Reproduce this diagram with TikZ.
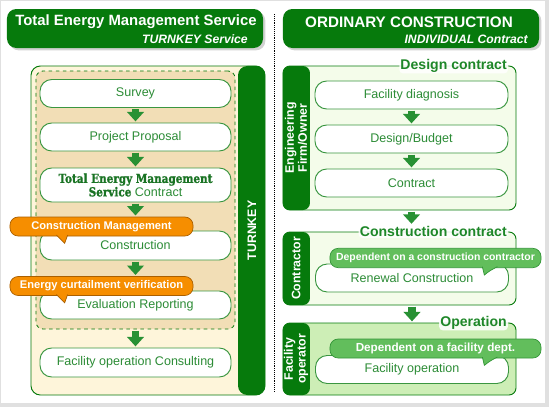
\documentclass[tikz,border=0pt]{standalone}
\usepackage{fontspec}
\setmainfont{Liberation Sans}
\newfontfamily\slabfont[FakeStretch=0.84,FakeBold=1.2]{DejaVu Serif}
\usetikzlibrary{arrows.meta,shadows}

\definecolor{hdgreen}{RGB}{6,122,12}
\definecolor{pillline}{RGB}{58,150,64}
\definecolor{pilltext}{RGB}{44,140,54}
\definecolor{arrowgreen}{RGB}{40,145,52}
\definecolor{creamfill}{RGB}{254,245,218}
\definecolor{tanfill}{RGB}{242,222,182}
\definecolor{palegreen}{RGB}{244,252,234}
\definecolor{opgreen}{RGB}{205,238,182}
\definecolor{calloutgreen}{RGB}{98,190,92}
\definecolor{calloutline}{RGB}{52,150,56}
\definecolor{calloutorange}{RGB}{246,142,0}
\definecolor{orangeline}{RGB}{170,95,0}
\definecolor{taggreen}{RGB}{30,135,40}
\definecolor{slabgreen}{RGB}{25,115,35}

\tikzset{
  hdr/.style={fill=hdgreen, rounded corners=8pt, minimum width=7.68cm, minimum height=1.17cm,
    drop shadow={shadow xshift=2pt, shadow yshift=-2pt, opacity=0.35}},
  hdtitle/.style={text=white, inner sep=0pt, font=\bfseries\fontsize{12.7}{14}\selectfont},
  hdsub/.style={text=white, inner sep=0pt, font=\bfseries\itshape\fontsize{10.4}{12}\selectfont},
  tkpanel/.style={draw=hdgreen, line width=0.8pt, fill=creamfill, rounded corners=8pt,
    path picture={\fill[hdgreen] ([xshift=-0.81cm]path picture bounding box.north east)
      rectangle (path picture bounding box.south east);}},
  ocpanel/.style={draw=hdgreen, line width=0.8pt, rounded corners=6pt, minimum width=6.99cm,
    path picture={\fill[hdgreen] (path picture bounding box.north west)
      rectangle ([xshift=0.81cm]path picture bounding box.south west);}},
  dashbox/.style={draw=hdgreen, dashed, line width=0.7pt, fill=tanfill, rounded corners=6pt,
    minimum width=5.97cm, minimum height=7.74cm},
  bartext/.style={rotate=90, text=white, align=center, inner sep=0pt,
    font=\bfseries\fontsize{10.5}{11}\selectfont},
  pill/.style={draw=pillline, line width=0.8pt, fill=white, rounded corners=10pt,
    minimum height=0.84cm, text=pilltext, align=center, font=\fontsize{10.7}{12}\selectfont},
  lpill/.style={pill, minimum width=5.73cm},
  rpill/.style={pill, minimum width=5.79cm},
  tag/.style={text=taggreen, fill=white, fill opacity=0.85, text opacity=1, inner sep=1pt,
    rounded corners=3pt, font=\bfseries\fontsize{12}{14}\selectfont},
  callorange/.style={fill=calloutorange, draw=orangeline, line width=0.6pt, rounded corners=7pt,
    minimum width=5.49cm, minimum height=0.57cm, text=white, inner sep=0pt,
    font=\bfseries\fontsize{9.5}{11}\selectfont},
  callgreen/.style={fill=calloutgreen, draw=calloutline, line width=0.6pt, rounded corners=7pt,
    minimum width=6.33cm, minimum height=0.58cm, text=white, inner sep=0pt},
  flow/.style={draw=arrowgreen, line width=6pt, -{Triangle[width=14pt,length=8pt]},
    shorten >=1pt, shorten <=1pt}
}

\begin{document}
\begin{tikzpicture}[x=0.03cm, y=-0.03cm]
  % frame
  \fill[black!12] (0,0) rectangle (549,407);
  \fill[white] (1,1) rectangle (545,403);
  \draw[densely dotted, line width=0.6pt] (274,14) -- (274,392);

  % left header
  \node[hdr] (lhdr) at (135,28.5) {};
  \node[hdtitle] (ltitle) at (136,22) {Total Energy Management Service};
  \node[hdsub, anchor=east] (lsub) at (248,39) {TURNKEY Service};

  % turnkey panel
  \node[tkpanel, minimum width=7.02cm, minimum height=9.87cm] (tkbox) at (148,230.5) {};
  \node[bartext] (tklabel) at ([xshift=-0.405cm]tkbox.east) {TURNKEY};
  \node[dashbox] (tkdash) at (135.5,200) {};

  \node[lpill] (survey) at (135.5,93.5) {Survey};
  \node[lpill] (proposal) at (135.5,137) {Project Proposal};
  \node[lpill, minimum height=1.02cm, font=\fontsize{10.7}{11.5}\selectfont] (temscontract) at (135.5,185)
    {{\slabfont\bfseries\fontsize{10.6}{11}\selectfont\color{slabgreen}Total Energy Management}\\{\slabfont\bfseries\fontsize{10.6}{11}\selectfont\color{slabgreen}Service} Contract};
  \node[lpill, minimum height=0.87cm] (construct) at (135.5,245.5) {Construction};
  \node[lpill] (evaluation) at (135.5,305) {Evaluation Reporting};
  \node[lpill, minimum height=0.87cm] (consulting) at (135.5,362.5) {Facility operation Consulting};

  % orange callouts
  \node[callorange] (cmgmt) at (101.5,226.5) {Construction Management};
  \filldraw[fill=calloutorange, draw=orangeline, line width=0.6pt]
    ([xshift=1.4cm, yshift=0.04cm]cmgmt.south west) .. controls +(0.12cm,-0.1cm) .. ([xshift=1.65cm, yshift=-0.21cm]cmgmt.south west)
    -- ([xshift=1.74cm, yshift=0.04cm]cmgmt.south west);
  \node[callorange] (ecverify) at (101.5,286) {Energy curtailment verification};
  \filldraw[fill=calloutorange, draw=orangeline, line width=0.6pt]
    ([xshift=1.4cm, yshift=0.04cm]ecverify.south west) .. controls +(0.12cm,-0.1cm) .. ([xshift=1.65cm, yshift=-0.21cm]ecverify.south west)
    -- ([xshift=1.74cm, yshift=0.04cm]ecverify.south west);

  \draw[flow] (survey) -- (proposal);
  \draw[flow] (proposal) -- (temscontract);
  \draw[flow] (temscontract) -- (temscontract.south |- cmgmt.north);
  \draw[flow] (construct) -- (construct.south |- ecverify.north);
  \draw[flow] (consulting.north |- tkdash.south) -- (consulting);

  % right header
  \node[hdr] (rhdr) at (411,28.5) {};
  \node[hdtitle, font=\bfseries\fontsize{13}{15}\selectfont] (rtitle) at (409,22) {ORDINARY CONSTRUCTION};
  \node[hdsub, anchor=east] (rsub) at (528,39) {INDIVIDUAL Contract};

  % design contract
  \node[ocpanel, fill=palegreen, minimum height=4.32cm] (dbox) at (399.5,138) {};
  \node[bartext] (dlabel) at ([xshift=0.405cm]dbox.west) {Engineering\\Firm/Owner};
  \node[tag, anchor=east] (dtag) at ([xshift=-0.25cm]dbox.north east) {Design contract};
  \node[rpill] (diagnosis) at (411.5,95) {Facility diagnosis};
  \node[rpill] (budget) at (411.5,139) {Design/Budget};
  \node[rpill] (contract) at (411.5,183) {Contract};
  \draw[flow] (diagnosis) -- (budget);
  \draw[flow] (budget) -- (contract);

  % construction contract
  \node[ocpanel, fill=palegreen, minimum height=2.19cm] (cbox) at (399.5,268.5) {};
  \node[bartext] (clabel) at ([xshift=0.405cm]cbox.west) {Contractor};
  \node[tag, anchor=east] (ctag) at ([xshift=-0.25cm]cbox.north east) {Construction contract};
  \node[rpill] (renewal) at (412,278) {Renewal Construction};
  \node[callgreen, font=\bfseries\fontsize{8.9}{10}\selectfont] (depcon) at (435.5,258)
    {Dependent on a construction contractor};
  \filldraw[fill=calloutgreen, draw=calloutline, line width=0.6pt]
    ([xshift=-1.77cm, yshift=0.04cm]depcon.south east) -- ([xshift=-1.71cm, yshift=-0.21cm]depcon.south east)
    .. controls +(0.15cm,0.12cm) .. ([xshift=-1.32cm, yshift=0.04cm]depcon.south east);

  \draw[flow] (contract.south |- dbox.south) -- (contract.south |- ctag.north);

  % operation
  \node[ocpanel, fill=opgreen, minimum height=2.16cm] (obox) at (399.5,359) {};
  \node[bartext] (olabel) at ([xshift=0.405cm]obox.west) {Facility\\operator};
  \node[tag, anchor=east] (otag) at ([xshift=-0.25cm]obox.north east) {Operation};
  \node[rpill] (operation) at (412,369.5) {Facility operation};
  \node[callgreen, minimum height=0.57cm, font=\bfseries\fontsize{10}{12}\selectfont] (depfac) at (435.5,348.5)
    {Dependent on a facility dept.};
  \filldraw[fill=calloutgreen, draw=calloutline, line width=0.6pt]
    ([xshift=-1.77cm, yshift=0.04cm]depfac.south east) -- ([xshift=-1.71cm, yshift=-0.21cm]depfac.south east)
    .. controls +(0.15cm,0.12cm) .. ([xshift=-1.32cm, yshift=0.04cm]depfac.south east);

  \draw[flow] (renewal.south |- cbox.south) -- (renewal.south |- obox.north);
\end{tikzpicture}
\end{document}
